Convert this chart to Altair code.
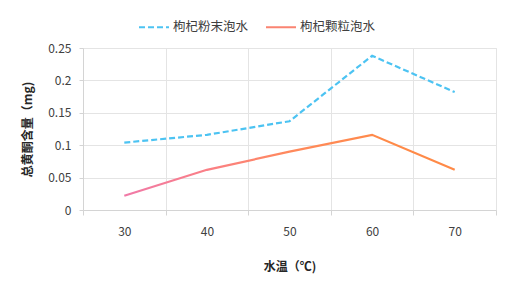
import altair as alt
import pandas as pd

temps = ["30", "40", "50", "60", "70"]
series_names = ["枸杞粉末泡水", "枸杞颗粒泡水"]
powder = [0.104, 0.116, 0.137, 0.238, 0.182]
granule = [0.022, 0.062, 0.090, 0.116, 0.062]
y_ticks = [0, 0.05, 0.1, 0.15, 0.2, 0.25]

df_powder = pd.DataFrame({"temp": temps, "value": powder, "series": series_names[0]})
df_granule = pd.DataFrame({"temp": temps, "value": granule, "series": series_names[1]})

FONT = "Noto Sans CJK SC"
GRID = "#e4e4e4"

x_enc = alt.X(
    "temp:O",
    sort=temps,
    scale=alt.Scale(type="band", paddingInner=0, paddingOuter=0),
    axis=alt.Axis(
        title="水温（℃)",
        titleFont=FONT, titleFontSize=12, titleFontWeight="bold", titleColor="#262626",
        titleY=56, titleBaseline="middle",
        labelAngle=0, labelFont=FONT, labelFontSize=12, labelColor="#404040",
        labelPadding=11,
        tickBand="extent", ticks=True, tickSize=5, tickColor="#d4d4d4",
        grid=True, gridColor=GRID,
        domainColor="#d4d4d4",
    ),
)
y_enc = alt.Y(
    "value:Q",
    scale=alt.Scale(domain=[0, 0.25], nice=False, zero=True),
    axis=alt.Axis(
        values=y_ticks, format="~g",
        title="总黄酮含量（mg)",
        titleFont=FONT, titleFontSize=12, titleFontWeight="bold", titleColor="#262626",
        titleX=-56, titleY=81, titleBaseline="middle", titleAlign="center",
        labelFont=FONT, labelFontSize=12, labelColor="#404040",
        labelPadding=8, tickSize=4, tickColor="#d4d4d4",
        grid=True, gridColor=GRID, domainColor="#d4d4d4",
    ),
)

blue_line = alt.Chart(df_powder).mark_line(strokeWidth=2.2).encode(
    x=x_enc,
    y=y_enc,
    color=alt.Color(
        "series:N",
        scale=alt.Scale(domain=series_names, range=["#4cc3f2", "#fa8472"]),
        legend=alt.Legend(
            title=None, orient="none", direction="horizontal",
            legendX=55, legendY=-37,
            symbolType="stroke", symbolSize=900, symbolStrokeWidth=2,
            labelFont=FONT, labelFontSize=12.5, labelColor="#404040",
            labelOffset=3, columnPadding=13, padding=0,
        ),
    ),
    strokeDash=alt.StrokeDash(
        "series:N",
        scale=alt.Scale(domain=series_names, range=[[6, 3], [1, 0]]),
        legend=alt.Legend(title=None),
    ),
)

orange_line = alt.Chart(df_granule).mark_line(
    strokeWidth=2.2,
    stroke=alt.Gradient(
        gradient="linear",
        stops=[
            alt.GradientStop(color="#f07aa8", offset=0),
            alt.GradientStop(color="#fa7f86", offset=0.25),
            alt.GradientStop(color="#ff895c", offset=0.5),
            alt.GradientStop(color="#ff8a48", offset=0.8),
            alt.GradientStop(color="#ff8a48", offset=1),
        ],
        x1=0, x2=1, y1=0, y2=0,
    ),
).encode(x=x_enc, y=y_enc)

chart = (
    alt.layer(blue_line, orange_line)
    .properties(
        width=413,
        height=162,
        padding={"left": 75, "top": 40, "right": 8, "bottom": 75},
        autosize=alt.AutoSizeParams(type="none"),
        background="white",
    )
    .configure_view(stroke=GRID)
)

chart.save("out.html", embed_options={"renderer": "svg", "actions": False})
